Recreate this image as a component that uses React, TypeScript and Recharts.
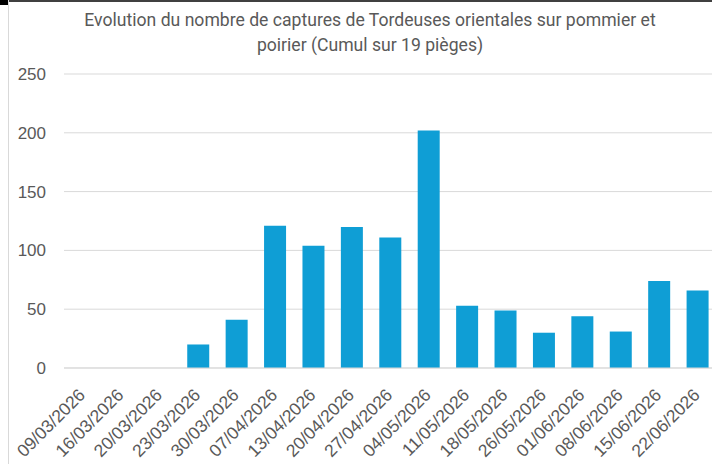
import React from "react";
import { Bar, BarChart, CartesianGrid, XAxis, YAxis } from "recharts";

const dates = [
  "09/03/2026", "16/03/2026", "20/03/2026", "23/03/2026", "30/03/2026",
  "07/04/2026", "13/04/2026", "20/04/2026", "27/04/2026", "04/05/2026",
  "11/05/2026", "18/05/2026", "26/05/2026", "01/06/2026", "08/06/2026",
  "15/06/2026", "22/06/2026",
];
const captures = [0, 0, 0, 20, 41, 121, 104, 120, 111, 202, 53, 49, 30, 44, 31, 74, 66];
const yTicks = [0, 50, 100, 150, 200, 250];

const titleLines = [
  "Evolution du nombre de captures de Tordeuses orientales sur pommier et",
  "poirier (Cumul sur 19 pièges)",
];

const data = dates.map((date, i) => ({ date, value: captures[i] }));

const textColor = "#595959";

function DateTick(props: any) {
  const { x, y, payload } = props;
  return (
    <text
      transform={`translate(${x + 3},${y + 28}) rotate(-45)`}
      textAnchor="end"
      fill={textColor}
      fontSize={17.5}
      fontFamily="Liberation Sans, Arial, sans-serif"
    >
      {payload.value}
    </text>
  );
}

export default function App() {
  return (
    <div style={{ position: "absolute", left: 0, top: 0, width: 712, height: 464, overflow: "hidden", background: "#fff" }}>
      <div style={{ position: "absolute", left: 0, top: 0, width: 8, height: 5, background: "#000" }} />
      <div style={{ position: "absolute", left: 8, top: 0, right: 0, height: 2, background: "#404040" }} />
      <div style={{ position: "absolute", left: 8, top: 0, bottom: 0, width: 1, background: "#d9d9d9" }} />
      <div style={{
        position: "absolute",
        left: 50,
        width: 640,
        top: 8,
        textAlign: "center",
        color: textColor,
        fontFamily: "Roboto, sans-serif",
        fontSize: 17.6,
        lineHeight: "25px",
      }}>
        {titleLines.map((line) => <div key={line}>{line}</div>)}
      </div>
      <div style={{ position: "absolute", left: 0, top: 0 }}>
        <BarChart
          width={730}
          height={464}
          data={data}
          margin={{ top: 74, right: 13, bottom: 0, left: 0 }}
        >
          <CartesianGrid vertical={false} stroke="#d9d9d9" />
          <XAxis
            dataKey="date"
            interval={0}
            height={96}
            tick={<DateTick />}
            tickLine={false}
            tickSize={0}
            tickMargin={0}
            axisLine={{ stroke: "#d9d9d9" }}
          />
          <YAxis
            domain={[0, 250]}
            ticks={yTicks}
            width={64}
            axisLine={false}
            tickLine={false}
            tickSize={0}
            tickMargin={18}
            tick={{ fill: textColor, fontSize: 17, fontFamily: "Liberation Sans, Arial, sans-serif" }}
          />
          <Bar dataKey="value" fill="#0F9ED5" barSize={22} isAnimationActive={false} />
        </BarChart>
      </div>
    </div>
  );
}
